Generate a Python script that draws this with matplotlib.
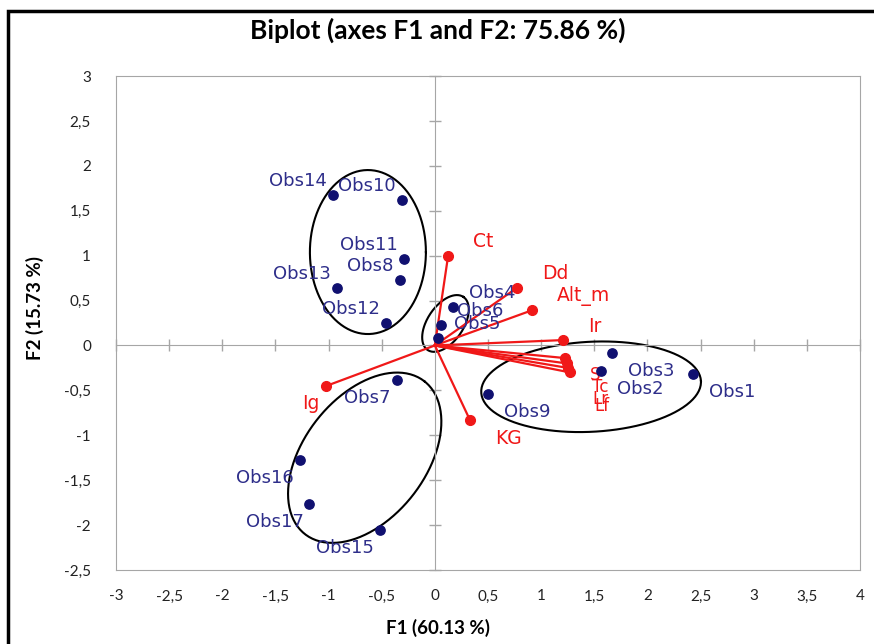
import numpy as np
import matplotlib.pyplot as plt
from matplotlib.patches import Rectangle
from matplotlib.ticker import FuncFormatter

# observations (F1, F2 scores)
obs_names = ['Obs1', 'Obs2', 'Obs3', 'Obs4', 'Obs5', 'Obs6', 'Obs7', 'Obs8', 'Obs9',
             'Obs10', 'Obs11', 'Obs12', 'Obs13', 'Obs14', 'Obs15', 'Obs16', 'Obs17']
obs_f1 = [2.43, 1.56, 1.67, 0.17, 0.03, 0.06, -0.36, -0.33, 0.50,
          -0.31, -0.29, -0.46, -0.92, -0.96, -0.52, -1.27, -1.18]
obs_f2 = [-0.32, -0.28, -0.08, 0.43, 0.08, 0.23, -0.38, 0.73, -0.54,
          1.62, 0.96, 0.25, 0.64, 1.68, -2.05, -1.27, -1.76]

# variables (loadings)
var_names = ['Ct', 'Dd', 'Alt_m', 'Ir', 'S', 'Tc', 'Lr', 'Lf', 'KG', 'Ig']
var_f1 = [0.125, 0.77, 0.91, 1.21, 1.22, 1.24, 1.25, 1.27, 0.33, -1.02]
var_f2 = [1.00, 0.64, 0.39, 0.06, -0.14, -0.20, -0.25, -0.30, -0.83, -0.45]

# groups circled by hand: centre (F1, F2), semi-axes in pixels, tilt in degrees
group_cx = [-0.63, -0.66, 1.47, 0.10]
group_cy = [1.04, -1.25, -0.46, 0.245]
group_a = [58, 97, 110, 32]
group_b = [82, 61, 45, 18]
group_tilt = [0, 52, 3, 56]

xticks = np.arange(-3, 4.01, 0.5)
yticks = np.arange(-2.5, 3.01, 0.5)

navy = '#101070'
label_blue = '#2E2E8A'
red = '#F01818'
grey = '#A6A6A6'


def comma(v, pos=None):
    s = ('%g' % v).replace('.', ',')
    return '0' if s == '-0' else s


fig = plt.figure(figsize=(8.74, 6.44), dpi=100)
ax = fig.add_axes([116 / 874, 74 / 644, 744 / 874, 494 / 644])
ax.set_xlim(-3, 4)
ax.set_ylim(-2.5, 3)

# zero axes with crossing ticks
for side in ['top', 'right']:
    ax.spines[side].set_color(grey)
ax.spines['left'].set_position(('data', 0))
ax.spines['bottom'].set_position(('data', 0))
ax.spines['left'].set_color(grey)
ax.spines['bottom'].set_color(grey)
ax.set_xticks(xticks)
ax.set_yticks(yticks)
ax.tick_params(direction='inout', length=9, color=grey, width=1,
               labelbottom=False, labelleft=False)

# tick labels on the outer frame
secx = ax.secondary_xaxis('bottom')
secx.set_xticks(xticks)
secx.xaxis.set_major_formatter(FuncFormatter(comma))
secx.tick_params(length=0, pad=14, labelsize=11, labelcolor='#222222')
secy = ax.secondary_yaxis('left')
secy.set_yticks(yticks)
secy.yaxis.set_major_formatter(FuncFormatter(comma))
secy.tick_params(length=0, pad=18, labelsize=11, labelcolor='#222222')
for sec in (secx, secy):
    for sp in sec.spines.values():
        sp.set_color(grey)
    for lab in sec.get_xticklabels() + sec.get_yticklabels():
        lab.set_family('Lato')

# variable vectors; the four near-identical ones get their labels stacked
var_dy = {'S': -17, 'Tc': -24, 'Lr': -31, 'Lf': -34}
for name, x, y in zip(var_names, var_f1, var_f2):
    ax.plot([0, x], [0, y], color=red, lw=1.6, zorder=3)
    ax.plot(x, y, 'o', color=red, ms=7, zorder=4)
    if x >= 0:
        off, ha = (25, var_dy.get(name, 14 if y > 0.02 else -18)), 'left'
    else:
        off, ha = (-7, -18), 'right'
    size = 12 if name in var_dy else 13.5
    ax.annotate(name, (x, y), xytext=off, textcoords='offset pixels',
                ha=ha, va='center', color=red, fontsize=size)

# observations
ax.scatter(obs_f1, obs_f2, s=45, color=navy, zorder=5)
for name, x, y in zip(obs_names, obs_f1, obs_f2):
    if x >= 0:
        dx, ha = 16, 'left'
    else:
        dx, ha = -6, 'right'
    dy = 14 if y > 0 else -18
    ax.annotate(name, (x, y), xytext=(dx, dy), textcoords='offset pixels',
                ha=ha, va='center', color=label_blue, fontsize=13)

# group ellipses, drawn in pixel space then mapped back to data units
px_x = 744 / 7.0
px_y = 494 / 5.5
t = np.linspace(0, 2 * np.pi, 200)
for cx, cy, a, b, tilt in zip(group_cx, group_cy, group_a, group_b, group_tilt):
    th = np.radians(tilt)
    dx = a * np.cos(t) * np.cos(th) - b * np.sin(t) * np.sin(th)
    dy = a * np.cos(t) * np.sin(th) + b * np.sin(t) * np.cos(th)
    ax.plot(cx + dx / px_x, cy + dy / px_y, color='black', lw=1.5, zorder=2)

fig.text(438 / 874, 1 - 30 / 644, 'Biplot (axes F1 and F2: 75.86 %)',
         ha='center', va='center', fontsize=19, fontweight='bold', family='Lato')
fig.text(438 / 874, 1 - 628 / 644, 'F1 (60.13 %)',
         ha='center', va='center', fontsize=13.5, fontweight='bold', family='Lato')
fig.text(35 / 874, 1 - 308 / 644, 'F2 (15.73 %)', rotation=90,
         ha='center', va='center', fontsize=13.5, fontweight='bold', family='Lato')

# outer frame (only left and top edges visible in the crop)
fig.add_artist(Rectangle((8 / 874, -0.1), 1.2, 1.1 - 11 / 644, fill=False,
                         lw=2.5, edgecolor='black', transform=fig.transFigure,
                         clip_on=False))

fig.savefig('out.png', dpi=100)
